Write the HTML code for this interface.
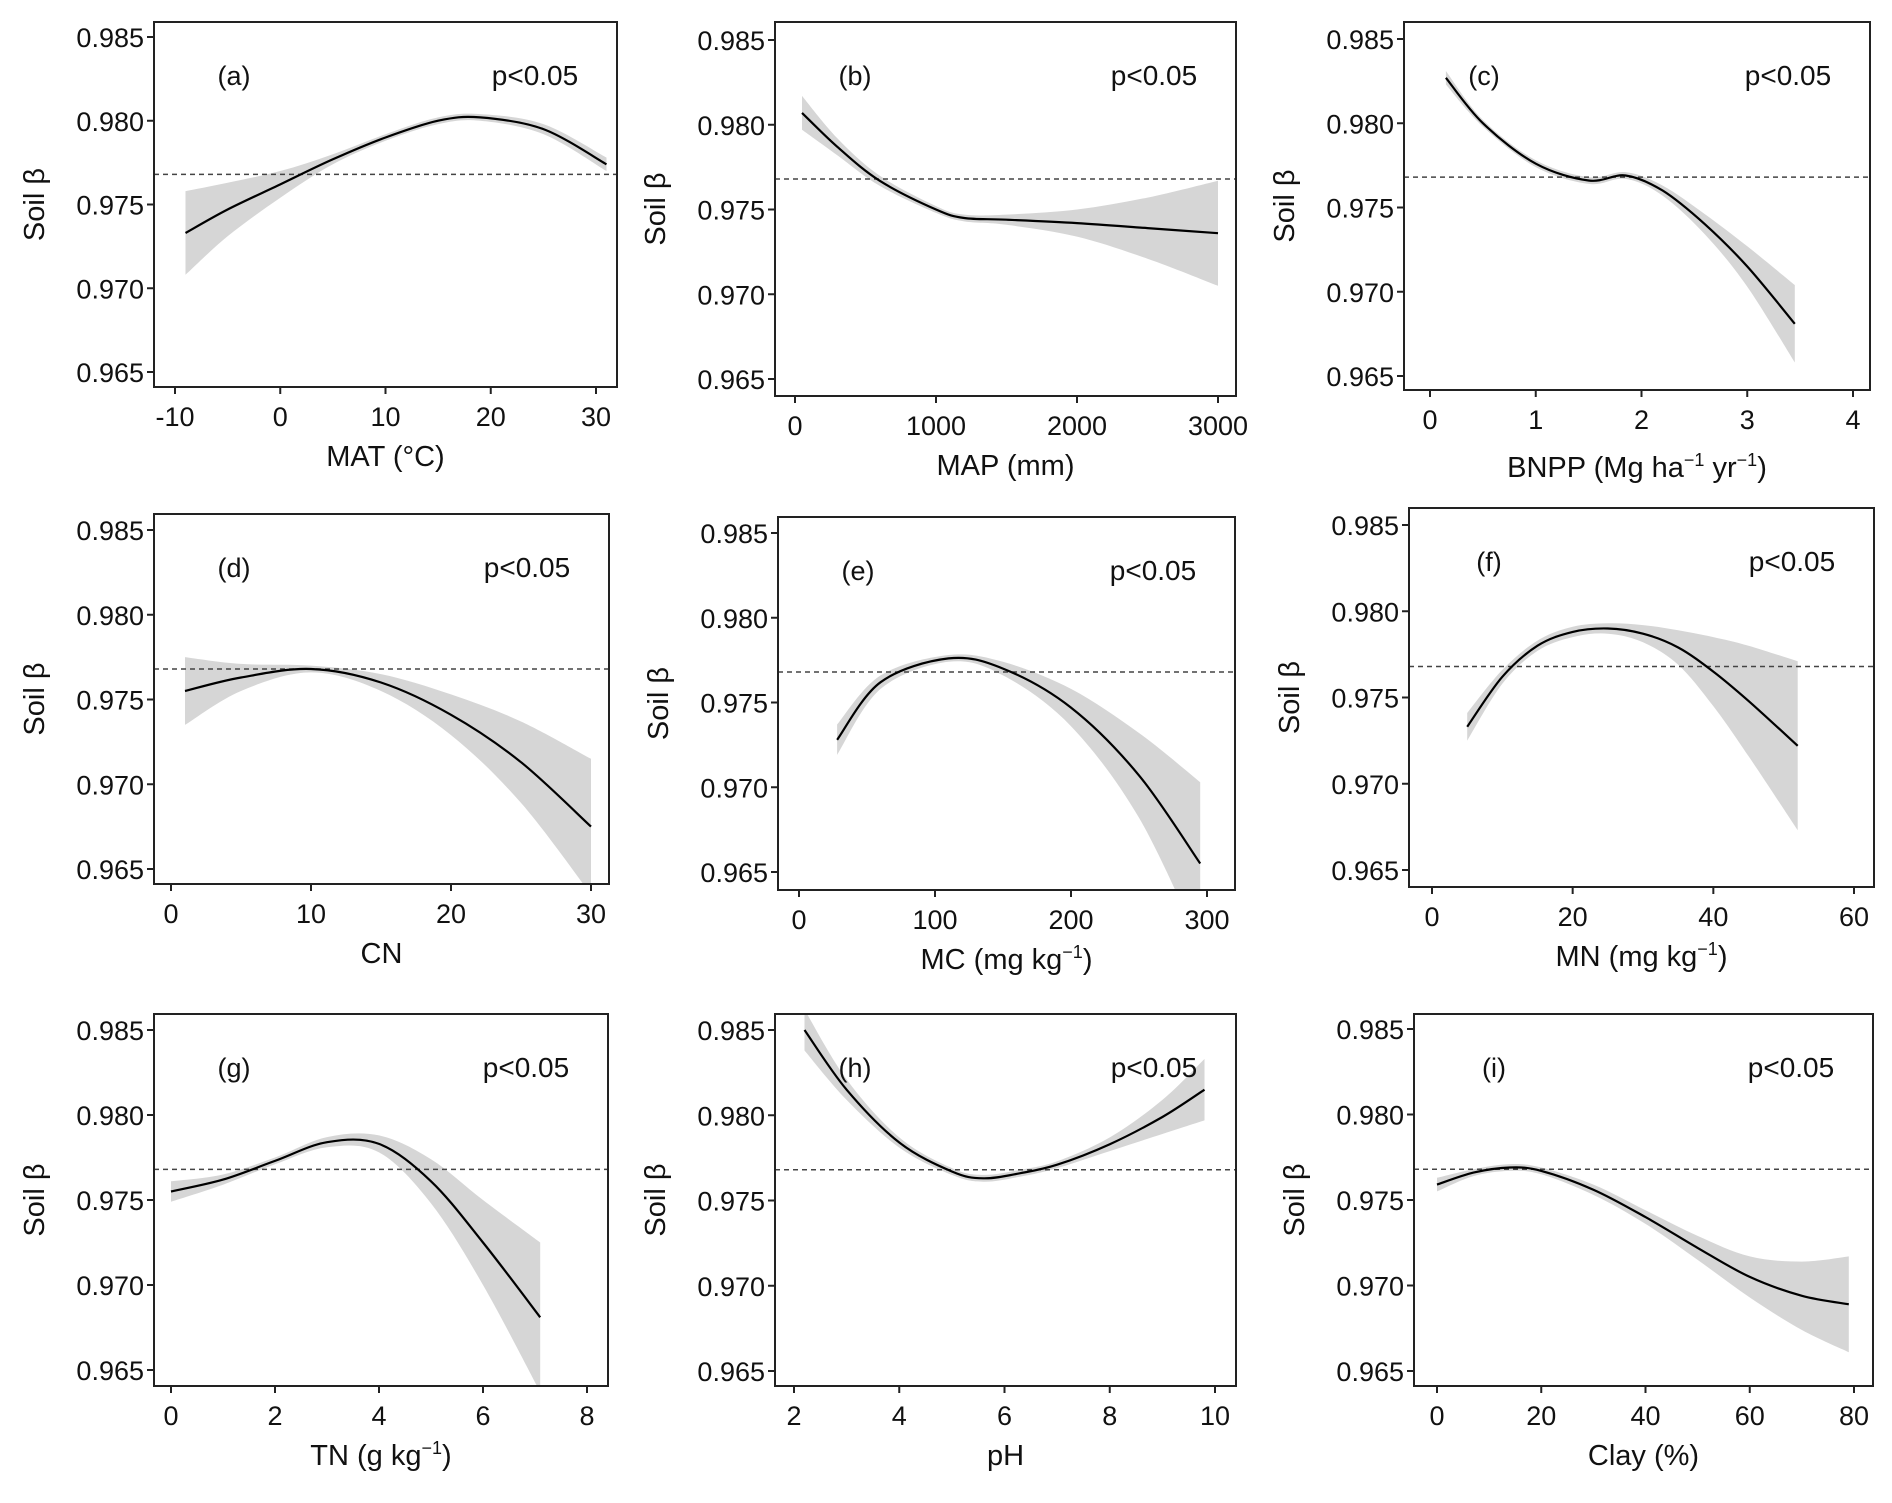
<!DOCTYPE html>
<html><head><meta charset="utf-8"><style>
html,body{margin:0;padding:0;background:#fff;}
svg{display:block;font-family:"Liberation Sans",Arial,sans-serif;}
</style></head><body>
<svg id="fig" width="1892" height="1503" viewBox="0 0 1892 1503"></svg>
<script>
const NS="http://www.w3.org/2000/svg";
const refLine=0.9768;
const yTicks=[0.965,0.970,0.975,0.980,0.985];
// panel data
const aX=[-9,-5,0,5,10,15,19,25,31];
const aY=[0.9733,0.9747,0.9762,0.9777,0.9790,0.9800,0.9802,0.9795,0.9774];
const aH=[0.0025,0.0016,0.0008,0.0003,0.0002,0.0002,0.0002,0.0003,0.0004];
const bX=[50,300,600,1000,1200,1500,2000,2500,3000];
const bY=[0.9807,0.9787,0.9767,0.9750,0.9745,0.9744,0.9742,0.9739,0.9736];
const bH=[0.0010,0.0005,0.0003,0.0002,0.0002,0.0003,0.0008,0.0018,0.0031];
const cX=[0.15,0.5,1,1.5,1.85,2.2,2.6,3,3.45];
const cY=[0.9827,0.9800,0.9776,0.9766,0.9769,0.9760,0.9740,0.9715,0.9681];
const cH=[0.0004,0.0002,0.0002,0.0002,0.0002,0.0003,0.0006,0.0012,0.0023];
const dX=[1,5,10,15,20,25,30];
const dY=[0.9755,0.9763,0.9768,0.9760,0.9741,0.9713,0.9675];
const dH=[0.0020,0.0008,0.0002,0.0005,0.0012,0.0024,0.0040];
const eX=[28,60,110,150,200,250,295];
const eY=[0.9728,0.9762,0.9776,0.9770,0.9747,0.9707,0.9655];
const eH=[0.0009,0.0004,0.0002,0.0004,0.0011,0.0025,0.0048];
const fX=[5,10,15,20,25,30,35,40,45,52];
const fY=[0.9733,0.9762,0.9780,0.9788,0.9790,0.9787,0.9779,0.9765,0.9748,0.9722];
const fH=[0.0008,0.0004,0.0003,0.0003,0.0003,0.0005,0.0010,0.0020,0.0032,0.0049];
const gX=[0,1,2,3,4,5,6,7.1];
const gY=[0.9755,0.9762,0.9773,0.9784,0.9783,0.9761,0.9725,0.9681];
const gH=[0.0006,0.0003,0.0002,0.0003,0.0005,0.0013,0.0025,0.0044];
const hX=[2.2,3,4,5,5.6,6.3,7,8,9,9.8];
const hY=[0.9850,0.9815,0.9784,0.9767,0.9763,0.9766,0.9771,0.9783,0.9799,0.9815];
const hH=[0.0012,0.0006,0.0003,0.0002,0.0002,0.0002,0.0002,0.0004,0.0010,0.0018];
const iX=[0,7,14,20,30,40,50,60,70,79];
const iY=[0.9759,0.9766,0.9769,0.9767,0.9756,0.9740,0.9722,0.9705,0.9694,0.9689];
const iH=[0.0004,0.0002,0.0002,0.0002,0.0003,0.0004,0.0007,0.0012,0.0020,0.0028];
const aTicks=[-10,0,10,20,30], bTicks=[0,1000,2000,3000], cTicks=[0,1,2,3,4];
const dTicks=[0,10,20,30], eTicks=[0,100,200,300], fTicks=[0,20,40,60];
const gTicks=[0,2,4,6,8], hTicks=[2,4,6,8,10], iTicks=[0,20,40,60,80];

const panels=[
 {id:"a",L:154,R:617,T:22,B:387,y985:37,y965:372,xa:-10,pa:175,xb:30,pb:596,X:aX,Y:aY,H:aH,ticks:aTicks,title:'MAT (°C)'},
 {id:"b",L:775,R:1236,T:22,B:396,y985:40,y965:379,xa:0,pa:795,xb:3000,pb:1218,X:bX,Y:bY,H:bH,ticks:bTicks,title:'MAP (mm)'},
 {id:"c",L:1404,R:1870,T:22,B:390,y985:39,y965:376,xa:0,pa:1430,xb:4,pb:1853,X:cX,Y:cY,H:cH,ticks:cTicks,title:'BNPP (Mg ha<tspan dy="-11" font-size="18">−1</tspan><tspan dy="11"> yr</tspan><tspan dy="-11" font-size="18">−1</tspan><tspan dy="11">)</tspan>',tdy:8},
 {id:"d",L:154,R:609,T:514,B:884,y985:530,y965:869,xa:0,pa:171,xb:30,pb:591,X:dX,Y:dY,H:dH,ticks:dTicks,title:'CN'},
 {id:"e",L:778,R:1235,T:517,B:890,y985:533,y965:872,xa:0,pa:799,xb:300,pb:1207,X:eX,Y:eY,H:eH,ticks:eTicks,title:'MC (mg kg<tspan dy="-11" font-size="18">−1</tspan><tspan dy="11">)</tspan>'},
 {id:"f",L:1409,R:1874,T:508,B:887,y985:525,y965:870,xa:0,pa:1432,xb:60,pb:1854,X:fX,Y:fY,H:fH,ticks:fTicks,title:'MN (mg kg<tspan dy="-11" font-size="18">−1</tspan><tspan dy="11">)</tspan>'},
 {id:"g",L:154,R:608,T:1014,B:1386,y985:1030,y965:1370,xa:0,pa:171,xb:8,pb:587,X:gX,Y:gY,H:gH,ticks:gTicks,title:'TN (g kg<tspan dy="-11" font-size="18">−1</tspan><tspan dy="11">)</tspan>'},
 {id:"h",L:775,R:1236,T:1014,B:1386,y985:1030,y965:1371,xa:2,pa:794,xb:10,pb:1215,X:hX,Y:hY,H:hH,ticks:hTicks,title:'pH'},
 {id:"i",L:1414,R:1873,T:1014,B:1386,y985:1029,y965:1371,xa:0,pa:1437,xb:80,pb:1854,X:iX,Y:iY,H:iH,ticks:iTicks,title:'Clay (%)'}
];
const svg=document.getElementById("fig");
function mk(tag,attrs,parent){const e=document.createElementNS(NS,tag);for(const k in attrs)e.setAttribute(k,attrs[k]);(parent||svg).appendChild(e);return e;}
function smooth(pts){ // catmull-rom
 let d="M"+pts[0][0].toFixed(1)+","+pts[0][1].toFixed(1);
 for(let i=0;i<pts.length-1;i++){
  const p0=pts[i-1]||pts[i],p1=pts[i],p2=pts[i+1],p3=pts[i+2]||p2;
  const c1=[p1[0]+(p2[0]-p0[0])/6,p1[1]+(p2[1]-p0[1])/6];
  const c2=[p2[0]-(p3[0]-p1[0])/6,p2[1]-(p3[1]-p1[1])/6];
  d+="C"+c1[0].toFixed(1)+","+c1[1].toFixed(1)+" "+c2[0].toFixed(1)+","+c2[1].toFixed(1)+" "+p2[0].toFixed(1)+","+p2[1].toFixed(1);
 }
 return d;
}
panels.forEach(p=>{
 const g=mk("g",{});
 
 
 const sx=v=>p.pa+(v-p.xa)*(p.pb-p.pa)/(p.xb-p.xa);
 const sy=v=>p.y965+(v-0.965)*(p.y985-p.y965)/0.02;
 const cp=mk("clipPath",{id:"clip"+p.id},g);
 mk("rect",{x:p.L,y:p.T,width:p.R-p.L,height:p.B-p.T},cp);
 const inner=mk("g",{"clip-path":"url(#clip"+p.id+")"},g);
 const up=p.X.map((x,k)=>[sx(x),sy(p.Y[k]+p.H[k])]);
 const lo=p.X.map((x,k)=>[sx(x),sy(p.Y[k]-p.H[k])]).reverse();
 const upD=smooth(up), loD=smooth(lo);
 const band=mk("path",{d:upD+"L"+loD.slice(1)+"Z",fill:"#d6d6d6",stroke:"none"},inner);
 
 
 const ref=mk("line",{x1:p.L,x2:p.R,y1:sy(refLine),y2:sy(refLine),stroke:"#444","stroke-width":1.5,"stroke-dasharray":"5,4"},inner);
 
 
 const fit=mk("path",{d:smooth(p.X.map((x,k)=>[sx(x),sy(p.Y[k])])),fill:"none",stroke:"#000","stroke-width":2.2},inner);
 
 
 const fr=mk("rect",{x:p.L,y:p.T,width:p.R-p.L,height:p.B-p.T,fill:"none",stroke:"#222","stroke-width":2},g);
 
 
 yTicks.forEach(v=>{
  const y=sy(v);
  mk("line",{x1:p.L-7,x2:p.L,y1:y,y2:y,stroke:"#222","stroke-width":2},g);
  const t=mk("text",{x:p.L-10,y:y+10,"text-anchor":"end","font-size":27,fill:"#111"},g);
  t.textContent=v.toFixed(3);
  
  
 });
 p.ticks.forEach(v=>{
  const x=sx(v);
  mk("line",{x1:x,x2:x,y1:p.B,y2:p.B+7,stroke:"#222","stroke-width":2},g);
  const t=mk("text",{x:x,y:p.B+39,"text-anchor":"middle","font-size":27,fill:"#111"},g);
  t.textContent=String(v);
  
  
 });
 const xt=mk("text",{x:(p.L+p.R)/2,y:p.B+79+(p.tdy||0),"text-anchor":"middle","font-size":29,fill:"#111"},g);
 xt.innerHTML=p.title;
 
 
 const yx=p.L-110, yc=(p.T+p.B)/2;
 const yt=mk("text",{x:yx,y:yc,"text-anchor":"middle","font-size":29,fill:"#111",transform:"rotate(-90 "+yx+" "+yc+")"},g);
 yt.textContent="Soil β";
 
 
 const lb=mk("text",{x:p.L+80,y:p.T+63,"text-anchor":"middle","font-size":27,fill:"#111"},g);
 lb.textContent="("+p.id+")";
 
 
 const pv=mk("text",{x:p.R-82,y:p.T+63,"text-anchor":"middle","font-size":28,fill:"#111"},g);
 pv.textContent="p<0.05";
 
 
});
</script>
</body></html>
